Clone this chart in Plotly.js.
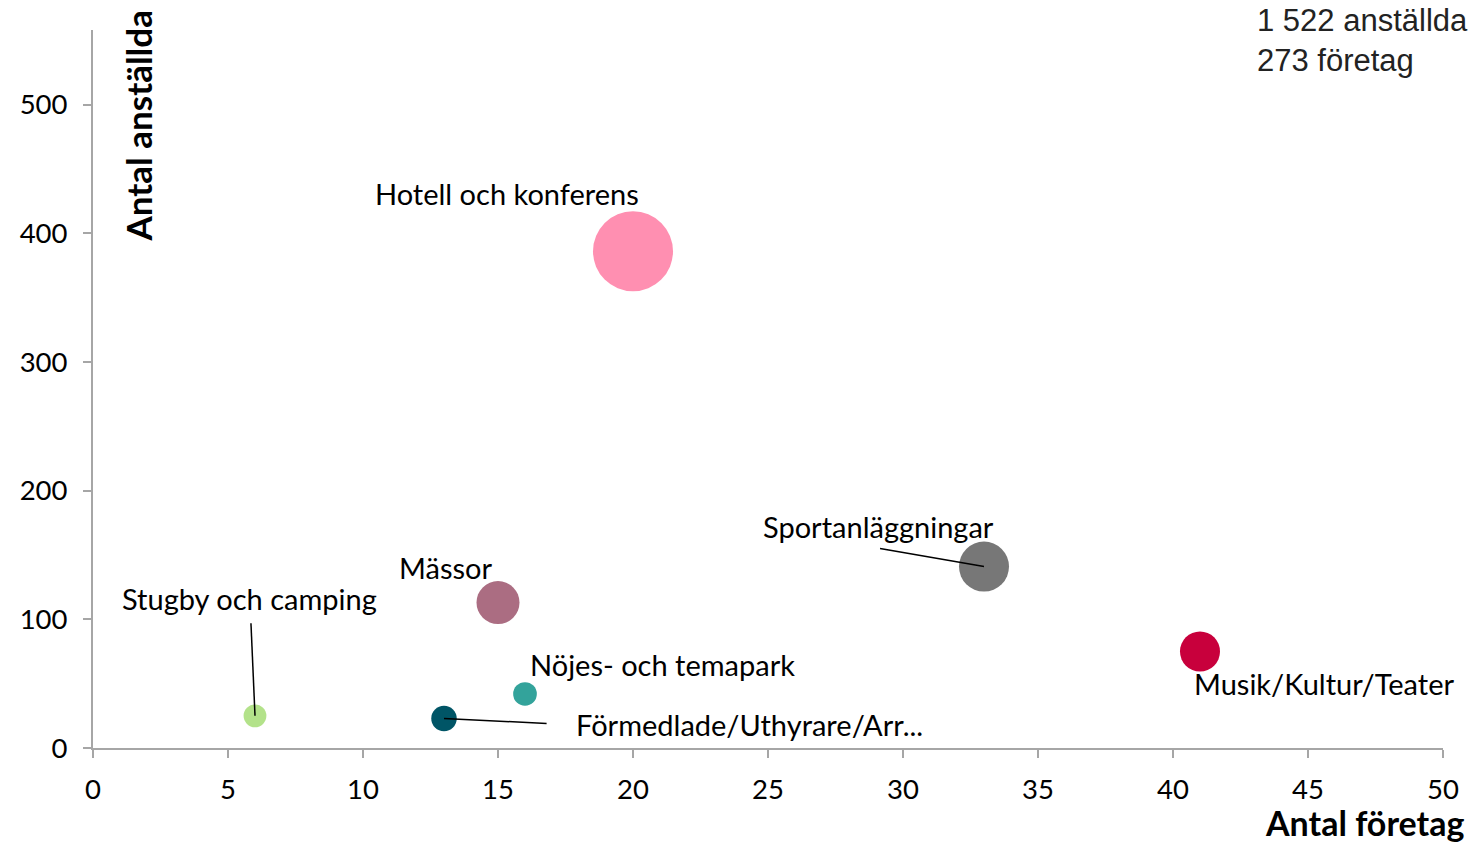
<!DOCTYPE html>
<html>
<head>
<meta charset="utf-8">
<script src="https://cdn.plot.ly/plotly-3.0.1.min.js"></script>
<style>html,body{margin:0;padding:0;background:#fff;}#chart{width:1468px;height:843px;}</style>
</head>
<body>
<div id="chart"></div>
<script>
// Data
const branscher = ["Hotell och konferens","Mässor","Stugby och camping","Nöjes- och temapark","Förmedlade/Uthyrare/Arr...","Sportanläggningar","Musik/Kultur/Teater"];
const antalForetag = [20, 15, 6, 16, 13, 33, 41];
const antalAnstallda = [386, 113, 25, 42, 23, 141, 75];
const bubbelStorlek = [6400, 1850, 520, 560, 650, 2500, 1600];
const farger = ["#ff8fb1", "#ab6d82", "#b3e28a", "#33a39b", "#005566", "#777777", "#c8003c"];
const totalText = ["1 522 anställda", "273 företag"];

// label placement (data coords) and leader line start points
const labelPos = [
  {x: 15.33, y: 431, line: false},
  {x: 13.07, y: 140, line: false},
  {x: 5.81, y: 116, line: true, ax: 5.85, ay: 97},
  {x: 21.1, y: 65, line: false},
  {x: 24.3, y: 18, line: true, ax: 16.8, ay: 19},
  {x: 29.1, y: 172, line: true, ax: 29.15, ay: 155},
  {x: 45.6, y: 50, line: false}
];

const font = "Lato, 'Open Sans', sans-serif";
const maxD = 80;
const sizeref = 2 * Math.max(...bubbelStorlek) / (maxD * maxD);

const trace = {
  type: "scatter",
  mode: "markers",
  x: antalForetag,
  y: antalAnstallda,
  text: branscher,
  marker: {
    size: bubbelStorlek,
    sizemode: "area",
    sizeref: sizeref,
    color: farger,
    opacity: 1,
    line: {width: 0}
  },
  hoverinfo: "text+x+y",
  showlegend: false
};

const annotations = [];
const shapes = [];
branscher.forEach((b, i) => {
  const p = labelPos[i];
  annotations.push({
    x: p.x, y: p.y, xref: "x", yref: "y",
    text: b, showarrow: false,
    font: {family: font, size: 29, color: "#000"},
    xanchor: "center", yanchor: "middle"
  });
  if (p.line) {
    shapes.push({
      type: "line", xref: "x", yref: "y",
      x0: p.ax, y0: p.ay, x1: antalForetag[i], y1: antalAnstallda[i],
      line: {color: "#000", width: 1.5}
    });
  }
});

annotations.push({
  xref: "x", yref: "paper", x: 1.65, y: 1.03,
  xanchor: "center", yanchor: "top",
  text: "Antal anställda", textangle: -90, showarrow: false,
  font: {family: font, size: 35, color: "#000", weight: "bold"}
});

annotations.push({
  xref: "paper", yref: "paper", x: 1.017, y: -0.073,
  xanchor: "right", yanchor: "top",
  text: "Antal företag", showarrow: false,
  font: {family: font, size: 34, color: "#000", weight: "bold"}
});

annotations.push({
  xref: "paper", yref: "paper", x: 0.8605, y: 1.04,
  xanchor: "left", yanchor: "top", align: "left",
  text: totalText.join("<br>"), showarrow: false,
  font: {family: "'Liberation Sans', Arial, sans-serif", size: 31, color: "#222"}
});

const layout = {
  width: 1468, height: 843,
  margin: {l: 93, r: 25, t: 30, b: 95},
  paper_bgcolor: "#fff", plot_bgcolor: "#fff",
  xaxis: {
    range: [0, 50], dtick: 5, tick0: 0,
    showgrid: false, zeroline: false,
    showline: true, linecolor: "#a6a6a6", linewidth: 2,
    ticks: "outside", ticklen: 8, tickcolor: "#a6a6a6", tickwidth: 2,
    ticklabelstandoff: 8,
    tickfont: {family: font, size: 27.5, color: "#000"}
  },
  yaxis: {
    range: [0, 558], dtick: 100, tick0: 0,
    showgrid: false, zeroline: false,
    showline: true, linecolor: "#a6a6a6", linewidth: 2,
    ticks: "outside", ticklen: 8, tickcolor: "#a6a6a6", tickwidth: 2,
    ticklabelstandoff: 10,
    tickfont: {family: font, size: 27.5, color: "#000"}
  },
  annotations: annotations,
  shapes: shapes
};

Plotly.newPlot("chart", [trace], layout, {displayModeBar: false, staticPlot: true});
</script>
</body>
</html>
